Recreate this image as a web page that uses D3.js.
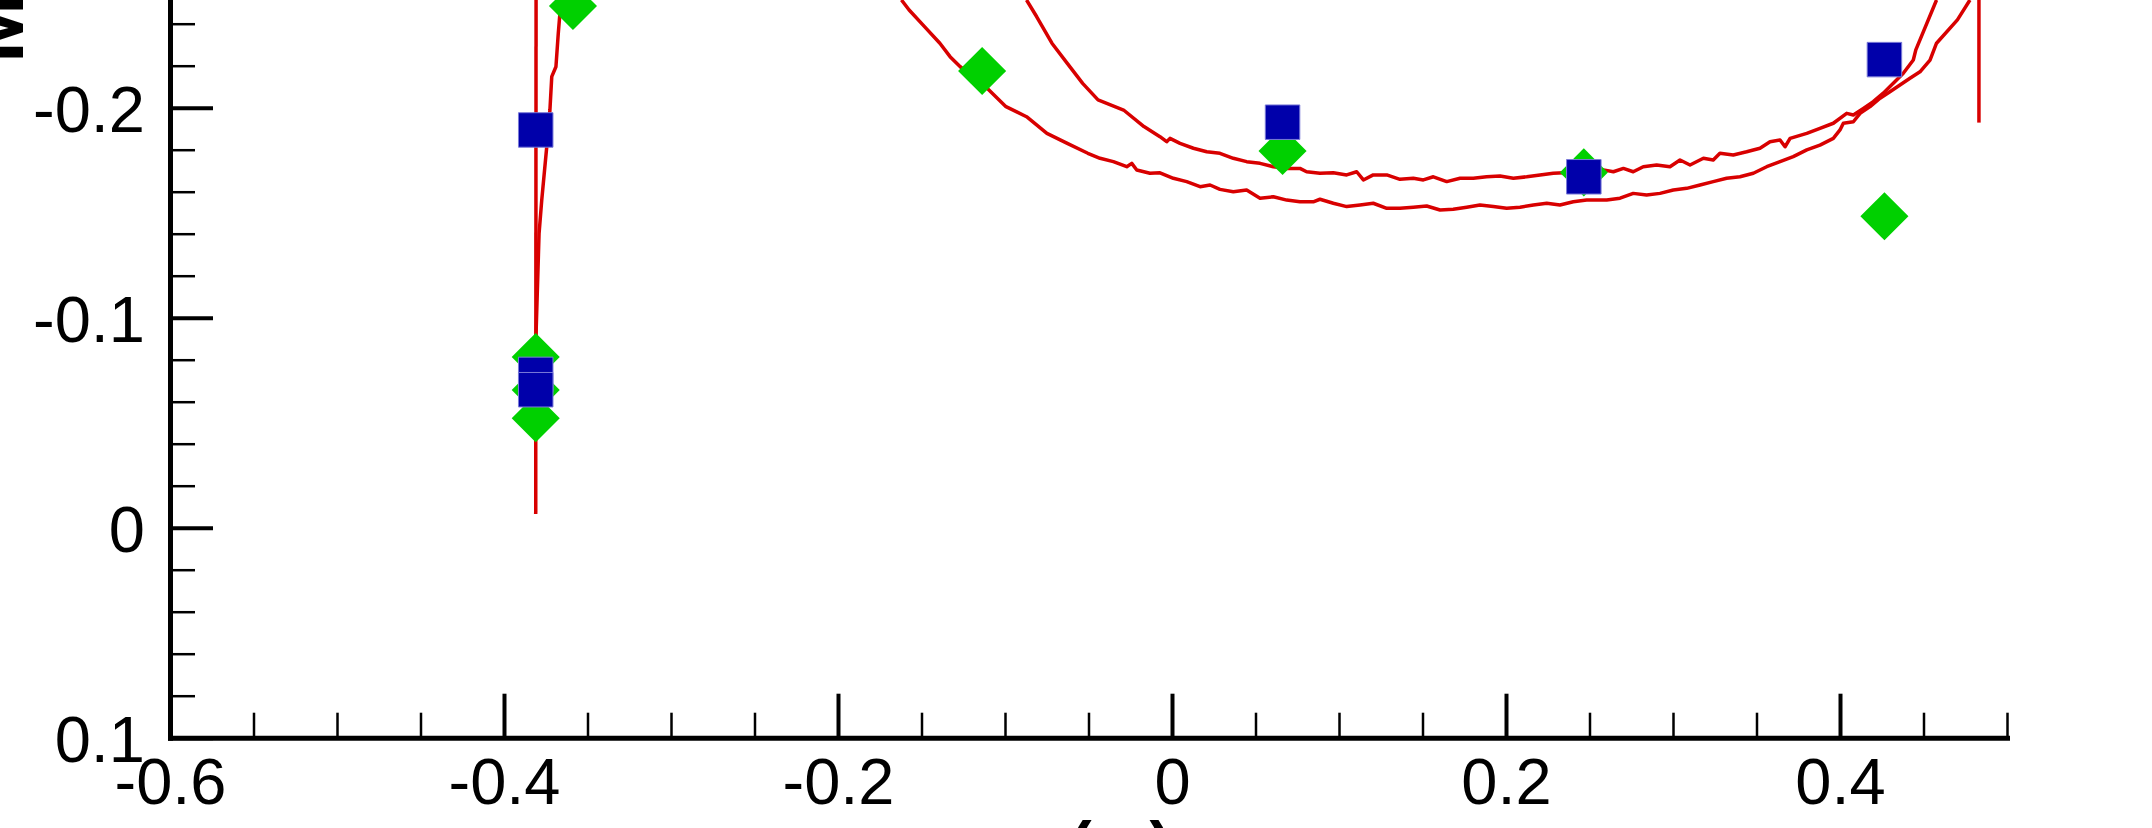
<!DOCTYPE html>
<html>
<head>
<meta charset="utf-8">
<script src="https://cdn.jsdelivr.net/npm/d3@7"></script>
<style>
  body { margin: 0; background: #fff; }
  svg { display: block; }
</style>
</head>
<body>
<div id="chart"></div>
<script>
// tick labels
var xMajorTicks = [-0.6, -0.4, -0.2, 0, 0.2, 0.4];
var yMajorTicks = [-0.2, -0.1, 0, 0.1];

// red curves, [x, y] pairs
var curveOuter = [
  [-0.1620, -0.2513], [-0.1574, -0.2465], [-0.1482, -0.2386], [-0.1390, -0.2307], [-0.1329, -0.2243],
  [-0.1268, -0.2195], [-0.1116, -0.2100], [-0.0994, -0.2005], [-0.0871, -0.1957], [-0.0749, -0.1878],
  [-0.0627, -0.1830], [-0.0504, -0.1783], [-0.0431, -0.1759], [-0.0351, -0.1743], [-0.0271, -0.1719],
  [-0.0241, -0.1735], [-0.0211, -0.1703], [-0.0132, -0.1688], [-0.0072, -0.1690], [0.0008, -0.1664],
  [0.0088, -0.1648], [0.0168, -0.1624], [0.0228, -0.1632], [0.0287, -0.1611], [0.0367, -0.1600],
  [0.0447, -0.1608], [0.0527, -0.1569], [0.0607, -0.1576], [0.0687, -0.1560], [0.0766, -0.1552],
  [0.0846, -0.1552], [0.0886, -0.1564], [0.0966, -0.1545], [0.1046, -0.1529], [0.1126, -0.1537],
  [0.1205, -0.1545], [0.1286, -0.1521], [0.1365, -0.1521], [0.1445, -0.1526], [0.1525, -0.1532],
  [0.1605, -0.1513], [0.1684, -0.1516], [0.1765, -0.1526], [0.1844, -0.1537], [0.1924, -0.1529],
  [0.2004, -0.1521], [0.2084, -0.1526], [0.2164, -0.1537], [0.2244, -0.1545], [0.2323, -0.1537],
  [0.2403, -0.1552], [0.2483, -0.1560], [0.2603, -0.1560], [0.2683, -0.1569], [0.2762, -0.1592],
  [0.2842, -0.1584], [0.2922, -0.1592], [0.3002, -0.1608], [0.3082, -0.1616], [0.3162, -0.1632],
  [0.3241, -0.1648], [0.3321, -0.1664], [0.3401, -0.1671], [0.3481, -0.1688], [0.3561, -0.1719],
  [0.3641, -0.1743], [0.3720, -0.1767], [0.3801, -0.1799], [0.3880, -0.1822], [0.3960, -0.1854],
  [0.4000, -0.1894], [0.4020, -0.1926], [0.4080, -0.1933], [0.4120, -0.1973], [0.4180, -0.2005],
  [0.4240, -0.2045], [0.4299, -0.2076], [0.4359, -0.2108], [0.4419, -0.2140], [0.4479, -0.2171],
  [0.4539, -0.2227], [0.4578, -0.2307], [0.4703, -0.2418], [0.4778, -0.2513]
];

var curveInner = [
  [-0.0871, -0.2513], [-0.0810, -0.2433], [-0.0719, -0.2307], [-0.0627, -0.2211], [-0.0535, -0.2116],
  [-0.0443, -0.2037], [-0.0290, -0.1989], [-0.0168, -0.1910], [-0.0072, -0.1862], [-0.0032, -0.1838],
  [-0.0012, -0.1854], [0.0048, -0.1830], [0.0128, -0.1807], [0.0208, -0.1790], [0.0287, -0.1783],
  [0.0367, -0.1759], [0.0447, -0.1743], [0.0527, -0.1735], [0.0607, -0.1719], [0.0687, -0.1711],
  [0.0766, -0.1711], [0.0806, -0.1695], [0.0886, -0.1688], [0.0966, -0.1690], [0.1046, -0.1680],
  [0.1106, -0.1695], [0.1146, -0.1656], [0.1205, -0.1680], [0.1286, -0.1680], [0.1365, -0.1659],
  [0.1445, -0.1664], [0.1505, -0.1656], [0.1565, -0.1671], [0.1645, -0.1648], [0.1725, -0.1664],
  [0.1804, -0.1664], [0.1884, -0.1671], [0.1964, -0.1675], [0.2044, -0.1664], [0.2124, -0.1671],
  [0.2204, -0.1680], [0.2283, -0.1688], [0.2443, -0.1694], [0.2583, -0.1704], [0.2643, -0.1695],
  [0.2703, -0.1711], [0.2762, -0.1695], [0.2822, -0.1719], [0.2902, -0.1727], [0.2982, -0.1719],
  [0.3042, -0.1751], [0.3102, -0.1727], [0.3182, -0.1759], [0.3241, -0.1751], [0.3281, -0.1783],
  [0.3361, -0.1775], [0.3441, -0.1790], [0.3521, -0.1807], [0.3581, -0.1838], [0.3641, -0.1846],
  [0.3671, -0.1814], [0.3701, -0.1854], [0.3801, -0.1878], [0.3880, -0.1902], [0.3960, -0.1926],
  [0.4040, -0.1973], [0.4080, -0.1965], [0.4140, -0.1997], [0.4199, -0.2029], [0.4259, -0.2069],
  [0.4319, -0.2116], [0.4379, -0.2164], [0.4439, -0.2227], [0.4454, -0.2275], [0.4578, -0.2513]
];

var leftStraight = [[-0.3810, -0.0065], [-0.3808, -0.2513]];

var leftBent = [
  [-0.3810, -0.0870], [-0.3790, -0.1402], [-0.3774, -0.1560], [-0.3744, -0.1814], [-0.3725, -0.1989],
  [-0.3714, -0.2148], [-0.3689, -0.2195], [-0.3675, -0.2354], [-0.3665, -0.2450], [-0.3661, -0.2513]
];

var rightStraight = [[0.4832, -0.1929], [0.4832, -0.2513]];

// green diamonds
var diamondX = [-0.3587, -0.3810, -0.3810, -0.3810, -0.1137, 0.0662, 0.2466, 0.4266];
var diamondY = [-0.2484, -0.0813, -0.0656, -0.0521, -0.2175, -0.1794, -0.1692, -0.1483];

// blue squares
var squareX = [-0.3810, -0.3810, -0.3810, 0.0662, 0.2466, 0.4266];
var squareY = [-0.1894, -0.0730, -0.0657, -0.1931, -0.1671, -0.2229];

var width = 2152, height = 828;

// set the ranges (y runs downward, the top is cut off)
var x = d3.scaleLinear().domain([-0.6, 0.5]).range([170, 2007]);
var y = d3.scaleLinear().domain([0.1, -0.3]).range([737.7, -102.3]);

var fontFamily = "'Liberation Sans', Arial, Helvetica, sans-serif";

var svg = d3.select("#chart").append("svg")
    .attr("width", width)
    .attr("height", height);

function fmt(d) {
    return d === 0 ? "0" : String(+d.toFixed(2));
}

// minor ticks
var xMinor = d3.range(-12, 11).filter(function(i) { return i % 4 !== 0; }).map(function(i) { return i / 20; });
var yMinor = d3.range(-15, 5).filter(function(i) { return i % 5 !== 0; }).map(function(i) { return i / 50; });

svg.append("g")
    .attr("transform", "translate(0," + y(0.1) + ")")
    .call(d3.axisBottom(x).tickValues(xMinor).tickSize(-25).tickFormat(""))
    .call(function(g) { g.select(".domain").remove(); })
    .selectAll("line").attr("stroke", "#000").attr("stroke-width", 2.5);

svg.append("g")
    .attr("transform", "translate(" + x(-0.6) + ",0)")
    .call(d3.axisLeft(y).tickValues(yMinor).tickSize(-25).tickFormat(""))
    .call(function(g) { g.select(".domain").remove(); })
    .selectAll("line").attr("stroke", "#000").attr("stroke-width", 2.5);

// add the x Axis
var gx = svg.append("g")
    .attr("transform", "translate(0," + y(0.1) + ")")
    .call(d3.axisBottom(x).tickValues(xMajorTicks).tickSizeInner(-44).tickSizeOuter(0)
        .tickPadding(20).tickFormat(fmt));

// add the y Axis
var gy = svg.append("g")
    .attr("transform", "translate(" + x(-0.6) + ",0)")
    .call(d3.axisLeft(y).tickValues(yMajorTicks).tickSizeInner(-43).tickSizeOuter(0)
        .tickPadding(25).tickFormat(fmt));

[gx, gy].forEach(function(g) {
    g.attr("font-size", 65).attr("font-family", fontFamily);
    g.select(".domain").attr("stroke", "#000").attr("stroke-width", 5).attr("stroke-linecap", "square");
    g.selectAll(".tick line").attr("stroke", "#000").attr("stroke-width", 4);
    g.selectAll(".tick text").attr("fill", "#000");
});
gy.selectAll(".tick text").attr("dy", "0.36em");

// axis titles
svg.append("text")
    .attr("x", (x.range()[0] + x.range()[1]) / 2 + 5)
    .attr("y", 867)
    .attr("text-anchor", "middle")
    .attr("font-family", fontFamily)
    .attr("font-size", 65)
    .attr("font-weight", "bold")
    .text("x (m)");

svg.append("text")
    .attr("transform", "translate(22.7,63) rotate(-90)")
    .attr("text-anchor", "start")
    .attr("font-family", fontFamily)
    .attr("font-size", 84)
    .attr("font-weight", "bold")
    .text("M (m)");

// red lines
var line = d3.line()
    .x(function(d) { return x(d[0]); })
    .y(function(d) { return y(d[1]); });

[curveOuter, curveInner, leftStraight, leftBent, rightStraight].forEach(function(c) {
    svg.append("path")
        .datum(c)
        .attr("fill", "none")
        .attr("stroke", "#d80000")
        .attr("stroke-width", 3.5)
        .attr("stroke-linejoin", "round")
        .attr("d", line);
});

// diamonds
var diamonds = diamondX.map(function(v, i) { return {x: v, y: diamondY[i]}; });
svg.selectAll(".diamond")
    .data(diamonds)
    .enter().append("path")
    .attr("class", "diamond")
    .attr("d", d3.symbol().type(d3.symbolSquare).size(34 * 34))
    .attr("transform", function(d) { return "translate(" + x(d.x) + "," + y(d.y) + ") rotate(45)"; })
    .style("fill", "#00d000");

// squares
var squares = squareX.map(function(v, i) { return {x: v, y: squareY[i]}; });
svg.selectAll(".square")
    .data(squares)
    .enter().append("path")
    .attr("class", "square")
    .attr("d", d3.symbol().type(d3.symbolSquare).size(34.5 * 34.5))
    .attr("transform", function(d) { return "translate(" + x(d.x) + "," + y(d.y) + ")"; })
    .style("fill", "#0000aa")
    .style("stroke", "#7a7ad8")
    .style("stroke-width", 1);
</script>
</body>
</html>
